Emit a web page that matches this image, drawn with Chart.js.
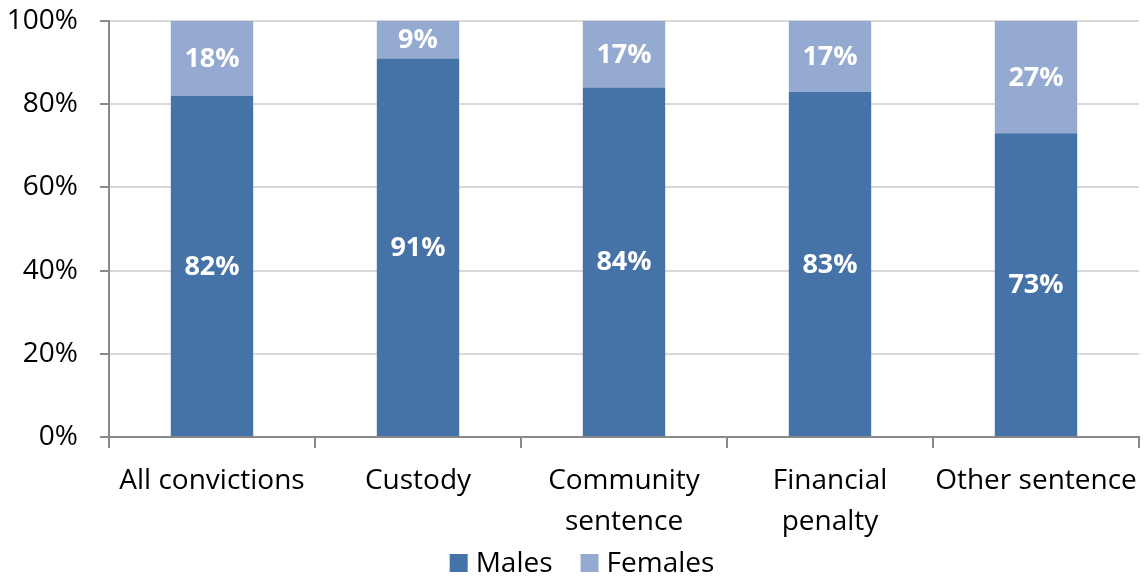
<!DOCTYPE html>
<html>
<head>
<meta charset="utf-8">
<script src="https://cdn.jsdelivr.net/npm/chart.js@4/dist/chart.umd.min.js"></script>
<style>
  html, body { margin: 0; padding: 0; background: #ffffff; }
  #wrap { width: 1146px; height: 577px; position: relative; }
</style>
</head>
<body>
<div id="wrap"><canvas id="c" width="1146" height="577"></canvas></div>
<script>
// Share of convictions by sex, per sentence type (percent)
const categories = ['All convictions', 'Custody', ['Community', 'sentence'], ['Financial', 'penalty'], 'Other sentence'];
const males   = [82, 91, 84, 83, 73];
const females = [18, 9, 17, 17, 27];
const yTicks  = [0, 20, 40, 60, 80, 100];

const FONT = '"Open Sans", sans-serif';
const AXIS_GREY = '#898989';

// Writes each segment's value in white bold in the middle of its visible part
const segmentLabels = {
  id: 'segmentLabels',
  afterDatasetsDraw(chart) {
    const ctx = chart.ctx;
    const area = chart.chartArea;
    ctx.save();
    ctx.fillStyle = '#ffffff';
    ctx.font = 'bold 27px ' + FONT;
    ctx.textAlign = 'center';
    ctx.textBaseline = 'middle';
    chart.data.datasets.forEach((ds, di) => {
      chart.getDatasetMeta(di).data.forEach((bar, i) => {
        const top = Math.max(Math.min(bar.y, bar.base), area.top);
        const bottom = Math.min(Math.max(bar.y, bar.base), area.bottom);
        ctx.fillText(ds.data[i] + '%', bar.x, (top + bottom) / 2 + 1);
      });
    });
    ctx.restore();
  }
};

// Compact legend row under the axis: square swatch, short gap, series name
const bottomLegend = {
  id: 'bottomLegend',
  afterDraw(chart, args, opts) {
    const ctx = chart.ctx;
    const box = 18, gap = 8, spacing = 28;
    ctx.save();
    ctx.font = '28px ' + FONT;
    ctx.textBaseline = 'middle';
    ctx.textAlign = 'left';
    const items = chart.data.datasets.map(ds => ({
      text: ds.label, color: ds.backgroundColor, w: ctx.measureText(ds.label).width
    }));
    const total = items.reduce((s, it) => s + box + gap + it.w, 0) + spacing * (items.length - 1);
    let x = opts.centerX - total / 2;
    const y = opts.y;
    items.forEach(it => {
      ctx.fillStyle = it.color;
      ctx.fillRect(x, y - box / 2, box, box);
      ctx.fillStyle = '#000000';
      ctx.fillText(it.text, x + box + gap, y + 1);
      x += box + gap + it.w + spacing;
    });
    ctx.restore();
  }
};

new Chart(document.getElementById('c'), {
  type: 'bar',
  data: {
    labels: categories,
    datasets: [
      { label: 'Males',   data: males,   backgroundColor: '#4573a7', barPercentage: 0.4, categoryPercentage: 1 },
      { label: 'Females', data: females, backgroundColor: '#95aad1', barPercentage: 0.4, categoryPercentage: 1 }
    ]
  },
  options: {
    responsive: false,
    animation: false,
    devicePixelRatio: 1,
    layout: { padding: { top: 21, right: 7, left: 0, bottom: 38 } },
    plugins: {
      legend: { display: false },
      tooltip: { enabled: false },
      bottomLegend: { centerX: 582, y: 563 }
    },
    scales: {
      x: {
        stacked: true,
        afterFit(axis) {
          axis.height = 102;
          axis.paddingLeft = 0;
          axis.paddingRight = 0;
        },
        grid: {
          offset: true,
          drawOnChartArea: false,
          drawTicks: true,
          tickLength: 11,
          tickColor: AXIS_GREY,
          lineWidth: 2
        },
        border: { color: AXIS_GREY, width: 2 },
        ticks: {
          font: { family: FONT, size: 28, lineHeight: 1.45 },
          color: '#000000',
          padding: 13,
          maxRotation: 0,
          autoSkip: false
        }
      },
      y: {
        stacked: true,
        min: 0,
        max: 100,
        afterBuildTicks(axis) { axis.ticks = yTicks.map(v => ({ value: v })); },
        afterFit(axis) {
          axis.width = 109;
          axis.paddingTop = 0;
          axis.paddingBottom = 0;
        },
        grid: {
          color: '#d9d9d9',
          lineWidth: 2,
          tickColor: AXIS_GREY,
          tickLength: 9
        },
        border: { color: AXIS_GREY, width: 2 },
        ticks: {
          font: { family: FONT, size: 28 },
          color: '#000000',
          padding: 22,
          callback: v => v + '%'
        }
      }
    }
  },
  plugins: [segmentLabels, bottomLegend]
});
</script>
</body>
</html>
